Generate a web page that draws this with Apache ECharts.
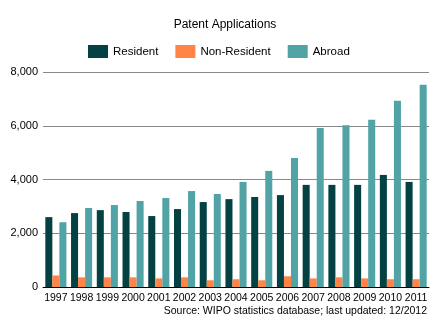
<!DOCTYPE html>
<html><head><meta charset="utf-8">
<script src="https://cdn.jsdelivr.net/npm/echarts@6/dist/echarts.min.js"></script>
<style>html,body{margin:0;padding:0;background:#fff}#c{width:436px;height:323px}</style>
</head><body><div id="c"></div>
<script>
const years = ['1997','1998','1999','2000','2001','2002','2003','2004','2005','2006','2007','2008','2009','2010','2011'];
const resident = [2600,2750,2860,2790,2640,2900,3160,3270,3350,3420,3800,3800,3800,4170,3910];
const nonResident = [430,360,360,360,320,360,250,290,250,400,320,360,320,290,290];
const abroad = [2410,2940,3050,3200,3310,3570,3460,3910,4320,4800,5920,6020,6220,6930,7530];
const yTicks = [0,2000,4000,6000,8000];
const font = 'Liberation Sans';
const chart = echarts.init(document.getElementById('c'));
chart.setOption({
  animation:false,
  textStyle:{fontFamily:font},
  title:{text:'Patent Applications',left:220,top:14,textAlign:'center',
    textStyle:{fontSize:12,fontWeight:'normal',color:'#000',fontFamily:font}},
  legend:{top:45,left:88,padding:0,itemWidth:20,itemHeight:13,itemGap:17,itemTextGap:7,
    icon:'rect',textStyle:{fontSize:11.5,color:'#000',fontFamily:font},
    data:['Resident','Non-Resident','Abroad']},
  grid:{left:43,right:7,top:72,bottom:36,containLabel:false},
  xAxis:{type:'category',data:years,
    axisLine:{lineStyle:{color:'#000',width:1}},axisTick:{show:false},
    axisLabel:{interval:0,fontSize:10.5,color:'#000',margin:6,fontFamily:font}},
  yAxis:{type:'value',min:0,max:8000,interval:2000,
    axisLine:{show:false},axisTick:{show:false},
    splitLine:{lineStyle:{color:'#888',width:1}},
    axisLabel:{fontSize:11,color:'#000',margin:5,fontFamily:font,
      formatter:v=>yTicks.includes(v)?v.toLocaleString('en-US'):''}},
  graphic:[{type:'text',right:9,top:306,style:{text:'Source: WIPO statistics database; last updated: 12/2012',
    fontSize:10.5,fill:'#000',fontFamily:font}}],
  series:[
    {name:'Resident',type:'bar',data:resident,itemStyle:{color:'#034143'},barGap:'0%',barCategoryGap:'18%'},
    {name:'Non-Resident',type:'bar',data:nonResident,itemStyle:{color:'#FF8445'}},
    {name:'Abroad',type:'bar',data:abroad,itemStyle:{color:'#52A3A5'}}
  ]
});
</script></body></html>
